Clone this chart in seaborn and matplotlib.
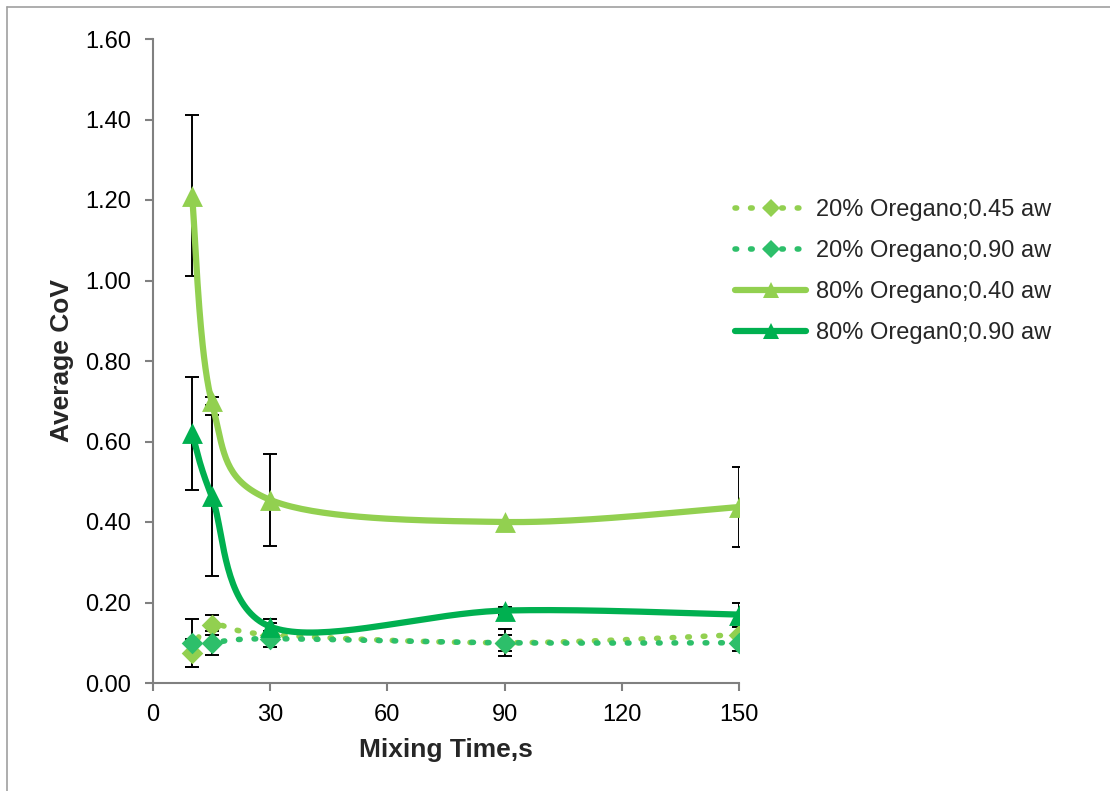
import numpy as np
import pandas as pd
import matplotlib
matplotlib.use("Agg")
import matplotlib.pyplot as plt
from matplotlib.lines import Line2D
import seaborn as sns

# data
mixing_time = [10, 15, 30, 90, 150]
series_names = ["20% Oregano;0.45 aw", "20% Oregano;0.90 aw",
                "80% Oregano;0.40 aw", "80% Oregan0;0.90 aw"]
cov_20_045 = [0.075, 0.145, 0.12, 0.10, 0.12]
cov_20_090 = [0.10, 0.10, 0.11, 0.10, 0.10]
cov_80_040 = [1.21, 0.70, 0.455, 0.40, 0.437]
cov_80_090 = [0.62, 0.465, 0.14, 0.18, 0.17]
err_20_045 = [0.035, 0.025, 0.03, 0.02, 0.02]
err_20_090 = [0.06, 0.03, 0.02, 0.033, 0.02]
err_80_040 = [0.20, 0.01, 0.115, 0.005, 0.10]
err_80_090 = [0.14, 0.20, 0.02, 0.01, 0.03]

light = "#92d050"
dark = "#00b050"
dark_dot = "#2dbf6a"

sns.set_style("white")
plt.rcParams["font.family"] = ["Liberation Sans", "DejaVu Sans"]

fig = plt.figure(figsize=(11.1, 7.91), dpi=100)
ax = fig.add_axes([153 / 1110, 1 - 683 / 791, 586 / 1110, 644 / 791])
ax.set_xlim(0, 150)
ax.set_ylim(0, 1.6)


def smooth(xs, ys, n=40):
    # Excel-like smoothed line: Bezier through the points, in display space
    pts = ax.transData.transform(np.column_stack([xs, ys]))
    p = np.vstack([pts[0], pts, pts[-1]])
    out = []
    for i in range(1, len(p) - 2):
        p0, p1, p2, p3 = p[i - 1], p[i], p[i + 1], p[i + 2]
        t = np.linspace(0, 1, n)[:, None]
        c1 = p1 + (p2 - p0) / 6
        c2 = p2 - (p3 - p1) / 6
        seg = ((1 - t) ** 3) * p1 + 3 * ((1 - t) ** 2) * t * c1 + 3 * (1 - t) * t ** 2 * c2 + t ** 3 * p2
        out.append(seg)
    seg = np.vstack(out)
    return ax.transData.inverted().transform(seg)


dots = (0, (0.3, 2.5))
specs = [
    (cov_20_045, err_20_045, light, "D", dots, 4, 11),
    (cov_20_090, err_20_090, dark_dot, "D", dots, 4, 11),
    (cov_80_040, err_80_040, light, "^", "-", 4.5, 15),
    (cov_80_090, err_80_090, dark, "^", "-", 4.5, 15),
]

handles = []
for name, (vals, errs, col, mk, ls, lw, ms) in zip(series_names, specs):
    ax.errorbar(mixing_time, vals, yerr=errs, fmt="none", ecolor="black",
                elinewidth=1.4, capsize=4.7, capthick=1.4, zorder=2)
    curve = smooth(mixing_time, vals)
    ax.plot(curve[:, 0], curve[:, 1], color=col, lw=lw, ls=ls,
            dash_capstyle="round", solid_capstyle="round", zorder=3)
    df = pd.DataFrame({"t": mixing_time, "v": vals})
    sns.scatterplot(data=df, x="t", y="v", ax=ax, color=col, marker=mk,
                    s=ms ** 2, edgecolor=col, linewidth=0, zorder=4)
    handles.append(Line2D([], [], color=col, lw=lw, ls=ls, marker=mk,
                          markersize=ms * 0.8, markeredgewidth=0,
                          dash_capstyle="round", solid_capstyle="round"))

ax.set_xticks([0, 30, 60, 90, 120, 150])
ax.set_yticks(np.arange(0, 1.61, 0.2))
ax.set_yticklabels([f"{v:.2f}" for v in np.arange(0, 1.61, 0.2)])
ax.tick_params(axis="both", labelsize=17, colors="#808080", labelcolor="black",
               direction="out", length=6, width=1.5, left=True, bottom=True)
ax.tick_params(axis="y", pad=10)
ax.tick_params(axis="x", pad=9)
for side in ["top", "right"]:
    ax.spines[side].set_visible(False)
for side in ["left", "bottom"]:
    ax.spines[side].set_color("#808080")
    ax.spines[side].set_linewidth(1.5)

ax.set_xlabel("Mixing Time,s", fontsize=19, fontweight="bold", labelpad=9)
ax.set_ylabel("Average CoV", fontsize=19, fontweight="bold", labelpad=8)

fig.legend(handles, series_names, loc="upper left",
           bbox_to_anchor=(714 / 1110, 1 - 178 / 791), frameon=False,
           fontsize=17, handlelength=3.0, labelspacing=0.8, handletextpad=0.4)

# outer frame lines (top and left)
fig.add_artist(Line2D([7 / 1110, 1], [1 - 7 / 791, 1 - 7 / 791],
                      transform=fig.transFigure, color="#a0a0a0", lw=1.2))
fig.add_artist(Line2D([7 / 1110, 7 / 1110], [0, 1 - 7 / 791],
                      transform=fig.transFigure, color="#a0a0a0", lw=1.2))

fig.savefig("out.png", dpi=100)
